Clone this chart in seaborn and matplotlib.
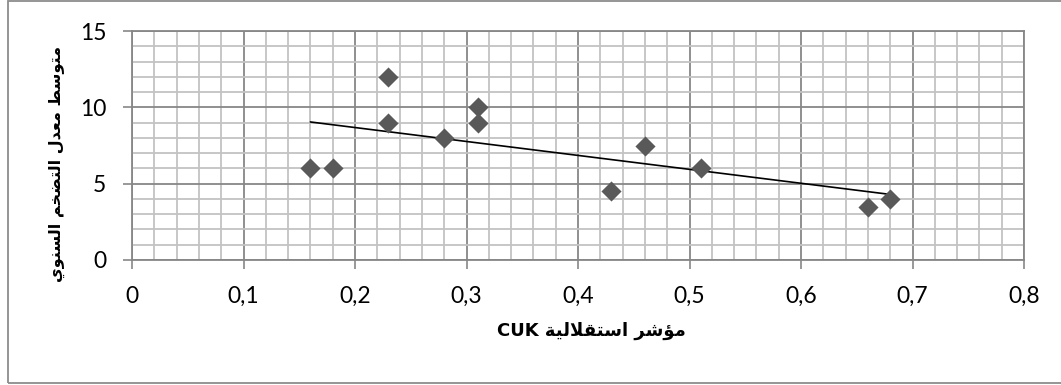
import re
import numpy as np
import pandas as pd
import matplotlib
matplotlib.use("Agg")
import matplotlib.pyplot as plt
from matplotlib.ticker import MultipleLocator, FixedLocator, FixedFormatter
from matplotlib.patches import Rectangle
import seaborn as sns

# Central bank independence index (CUK) vs. average annual inflation rate
cuk_index = [0.16, 0.18, 0.23, 0.23, 0.28, 0.31, 0.31, 0.43, 0.46, 0.51, 0.66, 0.68]
inflation = [6.0, 6.0, 12.0, 9.0, 8.0, 10.0, 9.0, 4.5, 7.5, 6.0, 3.5, 4.0]

x_ticks = [0, 0.1, 0.2, 0.3, 0.4, 0.5, 0.6, 0.7, 0.8]
x_tick_labels = ["0", "0,1", "0,2", "0,3", "0,4", "0,5", "0,6", "0,7", "0,8"]
y_ticks = [0, 5, 10, 15]
y_tick_labels = ["0", "5", "10", "15"]

x_title = "مؤشر استقلالية CUK"
y_title = "متوسط معدل التضخم السنوي"

# --- minimal Arabic shaping (matplotlib has no complex text layout) ---
# forms: isolated, final, initial, medial
_FORMS = {
    "\u0627": ("\uFE8D", "\uFE8E", None, None),      # alef
    "\u0624": ("\uFE85", "\uFE86", None, None),      # waw hamza
    "\u0629": ("\uFE93", "\uFE94", None, None),      # teh marbuta
    "\u062A": ("\uFE95", "\uFE96", "\uFE97", "\uFE98"),
    "\u062E": ("\uFEA5", "\uFEA6", "\uFEA7", "\uFEA8"),
    "\u062F": ("\uFEA9", "\uFEAA", None, None),
    "\u0631": ("\uFEAD", "\uFEAE", None, None),
    "\u0633": ("\uFEB1", "\uFEB2", "\uFEB3", "\uFEB4"),
    "\u0634": ("\uFEB5", "\uFEB6", "\uFEB7", "\uFEB8"),
    "\u0636": ("\uFEBD", "\uFEBE", "\uFEBF", "\uFEC0"),
    "\u0637": ("\uFEC1", "\uFEC2", "\uFEC3", "\uFEC4"),
    "\u0639": ("\uFEC9", "\uFECA", "\uFECB", "\uFECC"),
    "\u0642": ("\uFED5", "\uFED6", "\uFED7", "\uFED8"),
    "\u0644": ("\uFEDD", "\uFEDE", "\uFEDF", "\uFEE0"),
    "\u0645": ("\uFEE1", "\uFEE2", "\uFEE3", "\uFEE4"),
    "\u0646": ("\uFEE5", "\uFEE6", "\uFEE7", "\uFEE8"),
    "\u0648": ("\uFEED", "\uFEEE", None, None),
    "\u064A": ("\uFEF1", "\uFEF2", "\uFEF3", "\uFEF4"),
    "LA": ("\uFEFB", "\uFEFC", None, None),          # lam-alef ligature
}


def _shape(text):
    tokens = []
    i = 0
    while i < len(text):
        if text[i] == "\u0644" and i + 1 < len(text) and text[i + 1] == "\u0627":
            tokens.append("LA")
            i += 2
        else:
            tokens.append(text[i])
            i += 1
    out = []
    for k, t in enumerate(tokens):
        if t not in _FORMS:
            out.append(t)
            continue
        prev = tokens[k - 1] if k > 0 else None
        nxt = tokens[k + 1] if k + 1 < len(tokens) else None
        joins_prev = prev in _FORMS and _FORMS[prev][2] is not None
        joins_next = nxt in _FORMS and _FORMS[t][2] is not None
        iso, fin, ini, med = _FORMS[t]
        if joins_prev and joins_next:
            out.append(med)
        elif joins_prev:
            out.append(fin)
        elif joins_next:
            out.append(ini)
        else:
            out.append(iso)
    return "".join(out)


def rtl(text):
    runs = re.findall(r"[A-Za-z0-9]+|[^A-Za-z0-9]+", text)
    runs = [r if re.match(r"[A-Za-z0-9]", r) else _shape(r)[::-1] for r in runs]
    return "".join(runs[::-1])


df = pd.DataFrame({"cuk": cuk_index, "inflation": inflation})

sns.set_theme(style="white")
plt.rcParams["font.family"] = ["Lato", "DejaVu Sans"]

W, H = 1061, 385
fig = plt.figure(figsize=(W / 100, H / 100), dpi=100)
ax = fig.add_axes([132 / W, 1 - 260 / H, (1024 - 132) / W, (260 - 31) / H])

major_c = "#878787"
minor_c = "#c3c3c3"

sns.regplot(data=df, x="cuk", y="inflation", ax=ax, scatter=False, ci=None,
            truncate=True, line_kws={"color": "black", "lw": 1.2, "zorder": 4})
sns.scatterplot(data=df, x="cuk", y="inflation", ax=ax, marker="D", s=105,
                color="#595959", edgecolor="#595959", linewidth=0, zorder=5)

ax.set_xlim(0, 0.8)
ax.set_ylim(0, 15)
ax.xaxis.set_major_locator(FixedLocator(x_ticks))
ax.xaxis.set_major_formatter(FixedFormatter(x_tick_labels))
ax.yaxis.set_major_locator(FixedLocator(y_ticks))
ax.yaxis.set_major_formatter(FixedFormatter(y_tick_labels))
ax.xaxis.set_minor_locator(MultipleLocator(0.02))
ax.yaxis.set_minor_locator(MultipleLocator(1))

ax.grid(which="minor", color=minor_c, lw=1.3, zorder=0)
ax.grid(which="major", color=major_c, lw=1.3, zorder=1)
ax.set_axisbelow(True)

for side in ["left", "bottom", "top", "right"]:
    ax.spines[side].set_visible(True)
    ax.spines[side].set_color(major_c)
    ax.spines[side].set_linewidth(1.3)

ax.tick_params(axis="both", which="major", direction="out", length=6.5, width=1.2,
               color=major_c, labelsize=16.5, labelcolor="black",
               bottom=True, left=True)
ax.tick_params(axis="x", which="major", pad=12)
ax.tick_params(axis="y", which="major", pad=12)
ax.tick_params(which="minor", length=0)

ax.set_xlabel(rtl(x_title), fontsize=13, fontweight="bold",
              family="DejaVu Sans", color="black")
ax.xaxis.set_label_coords((591 - 132) / (1024 - 132), (260 - 331) / (260 - 31))
ax.xaxis.label.set_verticalalignment("center")

ax.set_ylabel(rtl(y_title), fontsize=11.5, fontweight="bold",
              family="DejaVu Sans", color="black")
ax.yaxis.set_label_coords((57 - 132) / (1024 - 132), (260 - 164) / (260 - 31))
ax.yaxis.label.set_verticalalignment("center")
ax.yaxis.label.set_horizontalalignment("center")

# chart area border
fig.patches.append(Rectangle((8 / W, 2 / H), 1.2, (H - 3) / H,
                             transform=fig.transFigure, fill=False,
                             edgecolor="#8c8c8c", lw=1.3, zorder=0))

fig.savefig("out.png", dpi=100)
